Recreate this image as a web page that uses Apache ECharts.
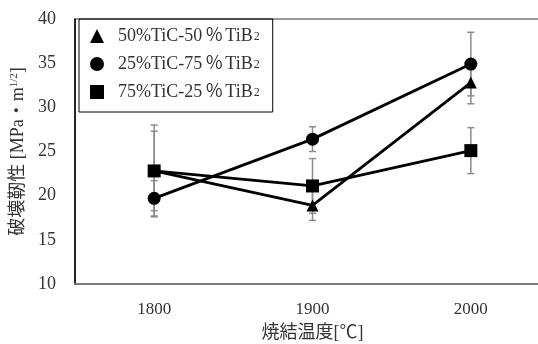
<!DOCTYPE html>
<html>
<head>
<meta charset="utf-8">
<script src="https://cdn.jsdelivr.net/npm/echarts@6/dist/echarts.min.js"></script>
<style>
  html, body { margin: 0; padding: 0; background: #fff; }
  #chart { width: 538px; height: 344px; }
</style>
</head>
<body>
<div id="chart"></div>
<script>
// 焼結温度
var temps = [1800, 1900, 2000];
var yTicks = [10, 15, 20, 25, 30, 35, 40];

// 破壊靭性 (平均値) and error (±)
var tic50 = [22.8, 18.9, 32.8];
var tic50Err = [4.5, 1.7, 2.4];
var tic25 = [19.7, 26.4, 34.9];
var tic25Err = [2.0, 1.4, 3.6];
var tic75 = [22.8, 21.1, 25.1];
var tic75Err = [5.2, 3.1, 2.6];

var names = ["50%TiC-50％TiB2", "25%TiC-75％TiB2", "75%TiC-25％TiB2"];
var font = "'Liberation Serif', 'Noto Sans CJK JP', serif";

function pairs(vals) {
  return temps.map(function (t, i) { return [t, vals[i]]; });
}
function errData(vals, errs) {
  return temps.map(function (t, i) { return [t, vals[i] - errs[i], vals[i] + errs[i]]; });
}

function renderErr(params, api) {
  var x = api.value(0);
  var lo = api.coord([x, api.value(1)]);
  var hi = api.coord([x, api.value(2)]);
  var w = 3.5;
  var st = { stroke: "#8c8c8c", lineWidth: 1.5 };
  return {
    type: "group",
    children: [
      { type: "line", shape: { x1: lo[0], y1: lo[1], x2: hi[0], y2: hi[1] }, style: st },
      { type: "line", shape: { x1: lo[0] - w, y1: lo[1], x2: lo[0] + w, y2: lo[1] }, style: st },
      { type: "line", shape: { x1: hi[0] - w, y1: hi[1], x2: hi[0] + w, y2: hi[1] }, style: st }
    ]
  };
}

function lineSeries(name, vals, symbol, size) {
  return {
    name: name,
    type: "line",
    data: pairs(vals),
    symbol: symbol,
    symbolSize: size,
    z: 5,
    itemStyle: { color: "#000" },
    lineStyle: { color: "#000", width: 2.8 }
  };
}

function errSeries(vals, errs) {
  return {
    type: "custom",
    renderItem: renderErr,
    data: errData(vals, errs),
    z: 2,
    silent: true
  };
}

var chart = echarts.init(document.getElementById("chart"));
chart.setOption({
  animation: false,
  textStyle: { fontFamily: font },
  grid: {
    left: 75, top: 19, bottom: 60, right: -12,
    containLabel: false, outerBoundsMode: "none",
    show: true, borderColor: "#7a7a7a", borderWidth: 1.5
  },
  legend: {
    orient: "vertical",
    left: 79, top: 19,
    padding: [4, 13, 11, 11],
    itemWidth: 14, itemHeight: 14, itemGap: 6,
    borderColor: "#000", borderWidth: 1,
    data: [
      { name: names[0], icon: "triangle" },
      { name: names[1], icon: "circle" },
      { name: names[2], icon: "rect" }
    ],
    formatter: function (n) {
      return n.slice(0, -1).replace("％", "{pc|％}") + "{sub|2}";
    },
    textStyle: {
      color: "#333", fontSize: 18, lineHeight: 14, fontFamily: font, padding: [0, 0, 0, 9],
      rich: {
        pc: { fontSize: 18, lineHeight: 14, padding: [0, 2, 0, 3], color: "#333", fontFamily: font },
        sub: { fontSize: 12, lineHeight: 14, padding: [8, 0, 0, 1], verticalAlign: "bottom", color: "#333", fontFamily: font }
      }
    }
  },
  xAxis: {
    type: "value",
    min: 1750, max: 2050, interval: 50,
    name: "焼結温度[℃]",
    nameLocation: "middle",
    nameGap: 40,
    nameTextStyle: { color: "#333", fontSize: 18, fontFamily: font },
    axisLine: { show: true, lineStyle: { color: "#7a7a7a", width: 2 } },
    axisTick: { show: false },
    splitLine: { show: false },
    axisLabel: {
      color: "#333", fontSize: 17, margin: 17, fontFamily: font,
      formatter: function (v) { return temps.indexOf(v) >= 0 ? String(v) : ""; }
    }
  },
  yAxis: {
    type: "value",
    min: yTicks[0], max: yTicks[yTicks.length - 1], interval: 5,
    name: "破壊靭性 [MPa・m{sup|1/2}]",
    nameLocation: "middle",
    nameGap: 47,
    nameRotate: 90,
    nameTextStyle: {
      color: "#333", fontSize: 18, fontFamily: font,
      rich: { sup: { fontSize: 11, verticalAlign: "top", padding: [0, 0, 8, 0], color: "#333", fontFamily: font } }
    },
    axisLine: { show: true, lineStyle: { color: "#000", width: 1.5 } },
    axisTick: { show: false },
    splitLine: { show: false },
    axisLabel: { color: "#333", fontSize: 18, margin: 19, fontFamily: font }
  },
  series: [
    errSeries(tic50, tic50Err),
    errSeries(tic25, tic25Err),
    errSeries(tic75, tic75Err),
    lineSeries(names[0], tic50, "triangle", 12),
    lineSeries(names[1], tic25, "circle", 13),
    lineSeries(names[2], tic75, "rect", 13)
  ]
});
</script>
</body>
</html>
